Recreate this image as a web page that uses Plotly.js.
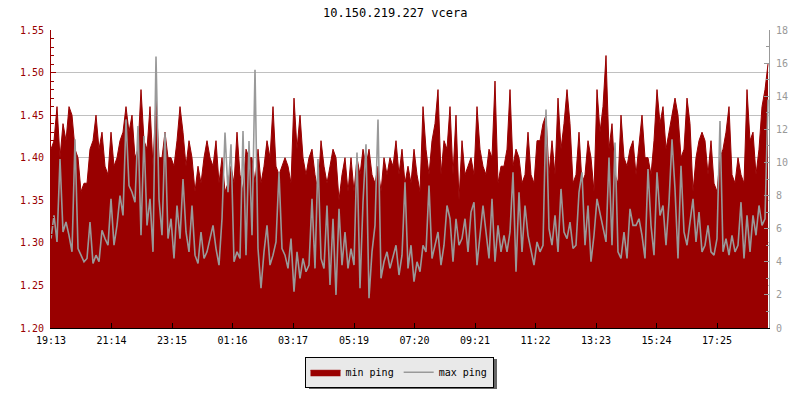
<!DOCTYPE html>
<html><head><meta charset="utf-8">
<script src="https://cdn.plot.ly/plotly-3.0.1.min.js"></script>
<style>html,body{margin:0;padding:0;background:#fff}#chart{width:800px;height:400px}</style>
</head><body><div id="chart"></div>
<script>
// sampling: one sample every 6 minutes starting 19:13
const startTime = Date.UTC(2024, 0, 1, 19, 13);
const stepMinutes = 6;
const spanMinutes = 1436;

const minPing = [
1.41,1.42,1.46,1.40,1.44,1.42,1.46,1.45,1.41,1.40,1.36,1.37,1.37,1.41,1.42,1.45,1.41,1.43,1.39,1.38,1.43,1.39,1.40,1.42,1.43,1.46,1.43,1.45,1.40,1.41,1.48,1.42,1.41,1.46,1.39,1.47,1.40,1.40,1.43,1.40,
1.40,1.39,1.42,1.46,1.43,1.39,1.42,1.40,1.36,1.39,1.37,1.40,1.42,1.40,1.39,1.42,1.37,1.40,1.36,1.37,1.39,1.37,1.43,1.38,1.36,1.41,1.40,1.40,1.37,1.41,1.37,1.39,1.42,1.40,1.46,1.39,1.38,1.39,1.40,1.39,
1.37,1.47,1.41,1.45,1.40,1.38,1.40,1.41,1.38,1.36,1.42,1.39,1.37,1.39,1.41,1.40,1.35,1.38,1.40,1.36,1.40,1.36,1.40,1.38,1.41,1.39,1.41,1.38,1.37,1.39,1.36,1.40,1.38,1.40,1.39,1.42,1.38,1.41,1.37,1.39,
1.37,1.41,1.38,1.36,1.46,1.41,1.38,1.42,1.44,1.48,1.38,1.42,1.41,1.46,1.38,1.45,1.35,1.42,1.38,1.39,1.40,1.38,1.46,1.41,1.39,1.38,1.41,1.40,1.49,1.37,1.39,1.39,1.41,1.48,1.39,1.41,1.40,1.37,1.38,1.43,
1.38,1.37,1.42,1.42,1.44,1.45,1.38,1.42,1.38,1.47,1.41,1.44,1.48,1.44,1.37,1.38,1.43,1.37,1.38,1.42,1.40,1.36,1.48,1.43,1.46,1.52,1.41,1.44,1.38,1.37,1.45,1.40,1.39,1.41,1.42,1.38,1.42,1.45,1.40,1.40,
1.38,1.42,1.48,1.44,1.46,1.41,1.43,1.45,1.47,1.45,1.40,1.41,1.47,1.44,1.36,1.40,1.42,1.43,1.42,1.38,1.42,1.37,1.36,1.40,1.41,1.43,1.46,1.38,1.37,1.40,1.38,1.37,1.48,1.42,1.43,1.38,1.41,1.46,1.48,1.51
];

const maxPing = [
5.4,6.8,5.2,10.2,5.8,6.4,5.6,4.6,11.4,4.8,4.4,4.0,4.2,6.4,3.9,4.4,4.0,5.9,5.4,5.0,7.8,5.0,6.2,8.0,6.8,12.6,8.6,8.2,7.6,12.2,5.6,11.6,6.2,7.8,4.6,16.4,7.8,5.6,11.8,5.4,
6.6,4.2,7.4,5.4,9.0,5.8,4.6,7.4,4.4,3.9,5.8,4.2,4.6,5.4,6.2,4.8,3.8,6.6,11.8,8.2,11.1,4.0,4.6,4.2,11.9,4.4,11.3,5.6,15.6,4.8,2.4,4.6,6.2,3.8,4.4,5.2,9.4,4.8,4.4,3.6,
5.4,2.2,4.6,3.0,4.2,3.4,3.8,7.8,3.6,10.2,4.2,3.6,7.4,2.6,6.6,2.0,7.2,3.8,5.8,3.6,4.8,3.8,10.6,2.4,7.6,11.1,1.8,4.6,6.2,12.6,3.0,4.0,4.6,3.6,4.4,5.0,3.2,4.4,8.8,3.6,
5.0,2.8,4.0,3.4,5.0,4.6,8.6,4.2,5.0,5.8,3.8,5.0,7.4,6.6,4.0,6.6,5.0,5.4,6.6,4.6,7.0,7.6,3.8,5.8,7.4,5.8,4.2,7.8,4.0,6.2,4.6,5.6,4.6,5.8,9.4,3.4,8.2,4.6,7.4,5.6,
4.6,3.8,5.2,4.6,5.0,13.2,6.0,5.0,6.8,4.6,8.4,5.8,5.4,6.4,4.8,5.0,8.2,9.4,5.0,7.4,4.0,5.6,7.8,7.0,6.2,5.2,10.3,5.0,11.2,4.6,4.2,5.8,4.2,7.2,6.2,6.2,6.6,5.6,4.2,9.6,
6.2,4.4,9.4,6.8,7.4,5.0,7.6,11.4,8.4,4.2,9.8,5.8,5.0,6.6,7.8,5.2,7.0,4.6,5.0,6.2,4.6,4.4,5.4,12.5,4.6,5.4,4.4,5.6,4.6,5.0,7.6,4.2,6.8,4.6,6.8,5.6,7.4,6.2,6.6,13.8
];

const tickTimes = ['2024-01-01 19:13','2024-01-01 21:14','2024-01-01 23:15','2024-01-02 01:16',
  '2024-01-02 03:17','2024-01-02 05:19','2024-01-02 07:20','2024-01-02 09:21',
  '2024-01-02 11:22','2024-01-02 13:23','2024-01-02 15:24','2024-01-02 17:25'];
const tickLabels = ['19:13','21:14','23:15','01:16','03:17','05:19','07:20','09:21','11:22','13:23','15:24','17:25'];

function ts(ms){ return new Date(ms).toISOString().replace('T',' ').slice(0,19); }
const times = minPing.map((_, i) => ts(startTime + i*stepMinutes*60000));
const rangeEnd = ts(startTime + spanMinutes*60000);

const RED = '#990000', GREY = '#999999';
const FONT = 'DejaVu Sans Mono, monospace';

const traces = [
  {type:'scatter', mode:'lines', name:'min ping', x:times, y:minPing, yaxis:'y',
   line:{color:RED, width:1, shape:'linear'}, fill:'tozeroy', fillcolor:RED, hoverinfo:'skip'},
  {type:'scatter', mode:'lines', name:'max ping', x:times, y:maxPing, yaxis:'y2',
   line:{color:GREY, width:1.6, shape:'linear'}, hoverinfo:'skip'}
];

const L = 51, R = 769, T = 30, B = 330;
const px2x = p => (p - L)/(R - L);
const px2y = p => (B - p)/(B - T);

const layout = {
  width:800, height:400,
  margin:{l:L, r:800-R, t:T, b:400-B, pad:0},
  paper_bgcolor:'#ffffff', plot_bgcolor:'#ffffff',
  font:{family:FONT, size:10, color:'#000'},
  showlegend:true,
  title:{text:'10.150.219.227 vcera', xref:'container', x:0.494, xanchor:'center',
         yref:'container', y:1-13/400, yanchor:'middle', font:{family:FONT, size:12, color:'#000'}},
  xaxis:{type:'date', range:[times[0], rangeEnd], tickmode:'array', tickvals:tickTimes, ticktext:tickLabels,
         ticks:'inside', ticklen:5, tickcolor:'#000', showline:true, linecolor:'#000', linewidth:1,
         showgrid:false, zeroline:false, ticklabelstandoff:3, tickfont:{family:FONT, size:10, color:'#000'}},
  yaxis:{range:[1.2,1.55], tick0:1.2, dtick:0.05, tickformat:'.2f', ticks:'inside', ticklen:5,
         tickcolor:RED, showline:true, linecolor:RED, linewidth:1, gridcolor:'#c0c0c0', gridwidth:1,
         zeroline:false, ticklabelstandoff:4, tickfont:{family:FONT, size:10, color:RED},
         minor:{dtick:0.01, tick0:1.2, ticks:'inside', ticklen:3, tickcolor:RED, showgrid:false}},
  yaxis2:{overlaying:'y', side:'right', range:[0,18], tick0:0, dtick:2, ticks:'inside', ticklen:5,
          tickcolor:GREY, showline:true, linecolor:GREY, linewidth:1, showgrid:false, zeroline:false,
          ticklabelstandoff:4, tickfont:{family:FONT, size:10, color:GREY},
          minor:{dtick:1, tick0:0, ticks:'inside', ticklen:3, tickcolor:GREY, showgrid:false}},
  legend:{orientation:'h', x:px2x(399), xanchor:'center', y:px2y(359), yanchor:'top',
          bgcolor:'#e9e9e9', bordercolor:'#000', borderwidth:1, font:{family:FONT, size:10, color:'#000'},
          itemwidth:30, tracegroupgap:0}
};

const gd = document.getElementById('chart');
Plotly.newPlot(gd, traces, layout, {staticPlot:true, displayModeBar:false}).then(() => {
  // drop shadow behind the legend box, offset 4px right/down
  const bg = gd.querySelector('.legend .bg');
  const pr = gd.getBoundingClientRect();
  if (bg) {
    const r = bg.getBoundingClientRect();
    const x0 = r.left - pr.left + 4, x1 = r.right - pr.left + 4;
    const y0 = r.top - pr.top + 4, y1 = r.bottom - pr.top + 4;
    Plotly.relayout(gd, {shapes:[{type:'rect', xref:'paper', yref:'paper',
      x0:px2x(x0), x1:px2x(x1), y0:px2y(y1), y1:px2y(y0),
      fillcolor:'#666666', line:{width:0}, layer:'above'}]});
  }
});
</script>
</body></html>
